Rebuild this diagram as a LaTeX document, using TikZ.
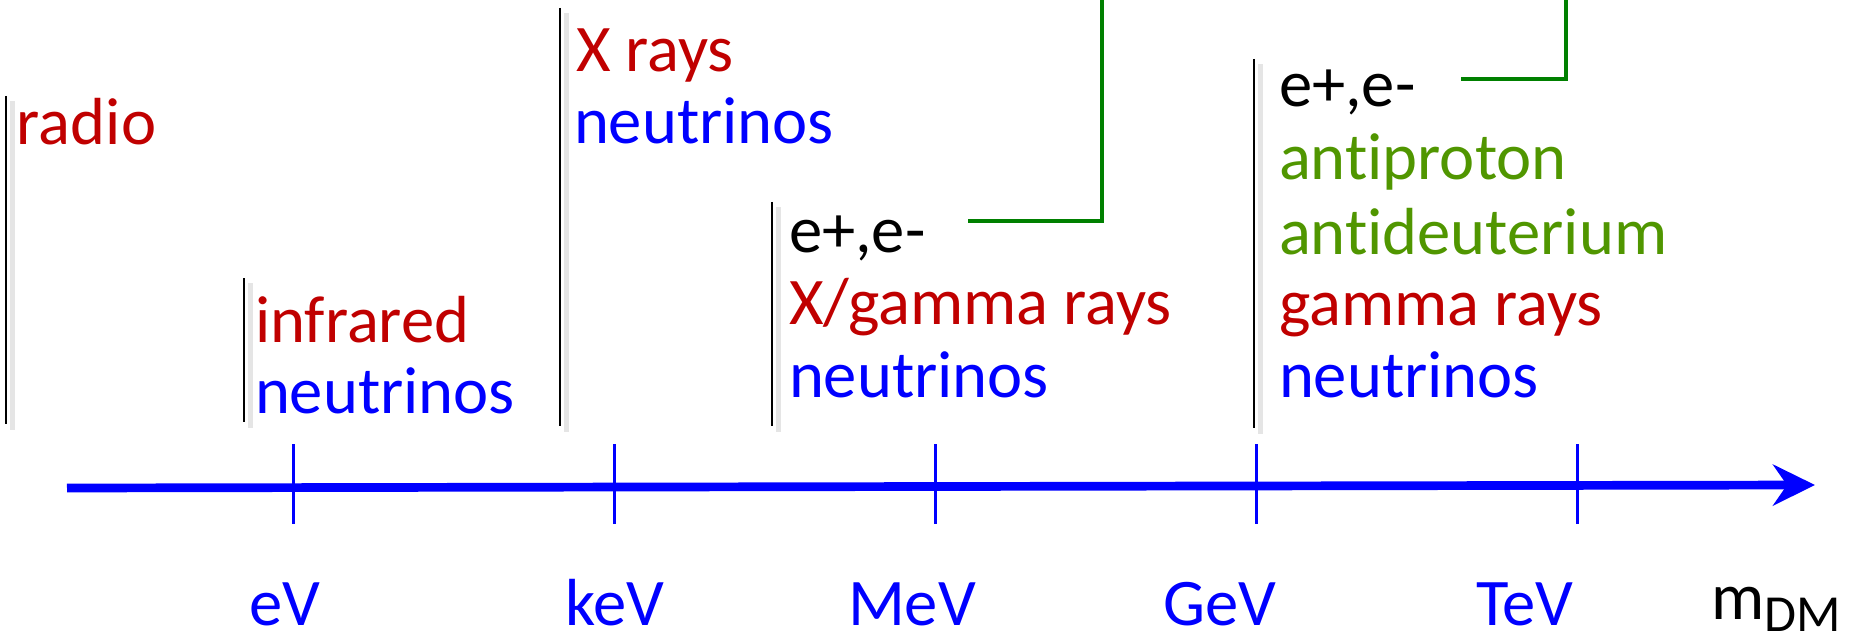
\documentclass[tikz,border=0pt]{standalone}
\usepackage{fontspec}
\setmainfont{Carlito}[Ligatures={NoCommon}]
\usetikzlibrary{arrows.meta}
\definecolor{cred}{RGB}{192,0,0}
\definecolor{cblue}{RGB}{0,0,255}
\definecolor{cgreen}{RGB}{80,150,0}
\definecolor{lgreen}{RGB}{0,128,0}
\newcommand\lblfont{\fontsize{33.3}{36}\selectfont}
\newcommand\dmfont{\fontsize{26}{26}\selectfont}
\tikzset{
  lbl/.style={anchor=base west, inner sep=0pt, outer sep=0pt, font=\lblfont},
  redt/.style={lbl, text=cred},
  bluet/.style={lbl, text=cblue},
  greent/.style={lbl, text=cgreen},
  blackt/.style={lbl, text=black},
  bar/.style={line width=1.25pt, black},
  barshadow/.style={line width=2.5pt, black!10},
  axisline/.style={line width=4.35pt, cblue, -{Stealth[length=21pt,width=20.5pt,inset=7pt]}},
  tickline/.style={line width=1.5pt, cblue},
  gline/.style={line width=1.9pt, lgreen},
}
\begin{document}
\begin{tikzpicture}[x=0.5pt,y=-0.5pt]
\useasboundingbox (0,0) rectangle (1854,642);

% bars (with soft shadow)
\foreach \name/\bx/\ytop/\ybot in {b1/6/96/424, b2/244/278/422, b3/560/8/426, b4/772/202/426, b5/1254/59/428}{
  \coordinate (\name t) at (\bx,\ytop);
  \coordinate (\name b) at (\bx,\ybot);
  \draw[barshadow] ([shift={(6,5)}]\name t) -- ([shift={(6,6)}]\name b);
  \draw[bar] (\name t) -- (\name b);
}

% group 1
\node[redt] (radio) at (17,145) {radio};
% group 2
\node[redt] (ir) at (255,342) {infrared};
\node[bluet] (nu2) at (255,413) {neutrinos};
% group 3
\node[redt] (xr) at (576,72) {X rays};
\node[bluet] (nu3) at (574,144) {neutrinos};
% group 4
\node[blackt] (ee4) at (789,252) {e+,e-};
\node[redt] (xg4) at (789,324) {X/gamma rays};
\node[bluet] (nu4) at (789,397) {neutrinos};
% group 5
\node[blackt] (ee5) at (1279,107) {e+,e-};
\node[greent] (ap5) at (1279,179) {antiproton};
\node[greent] (ad5) at (1279,254) {antideuterium};
\node[redt] (gr5) at (1279,325) {gamma rays};
\node[bluet] (nu5) at (1279,397) {neutrinos};

% green connectors
\coordinate (g1a) at (968,221);
\coordinate (g1b) at (1102,221);
\coordinate (g1c) at (1102,0);
\draw[gline] (g1a) -- (g1b) -- (g1c);
\coordinate (g2a) at (1461,79);
\coordinate (g2b) at (1566,79);
\coordinate (g2c) at (1566,0);
\draw[gline] (g2a) -- (g2b) -- (g2c);

% axis
\coordinate (ax0) at (67,488);
\coordinate (ax1) at (1815,485);
\draw[axisline] (ax0) -- (ax1);

% ticks
\foreach \name/\tx in {teV/293, tkeV/614, tMeV/935, tGeV/1256, tTeV/1577}{
  \coordinate (\name t) at (\tx,444);
  \coordinate (\name b) at (\tx,524);
  \draw[tickline] (\name t) -- (\name b);
}

% tick labels
\node[bluet] (leV) at (249,625) {eV};
\node[bluet] (lkeV) at (565,625) {keV};
\node[bluet] (lMeV) at (848,625) {MeV};
\node[bluet] (lGeV) at (1163,625) {GeV};
\node[bluet] (lTeV) at (1476,625) {TeV};
\node[blackt] (mdm) at (1711,619) {m\raisebox{-6pt}{\dmfont DM}};
\end{tikzpicture}
\end{document}
